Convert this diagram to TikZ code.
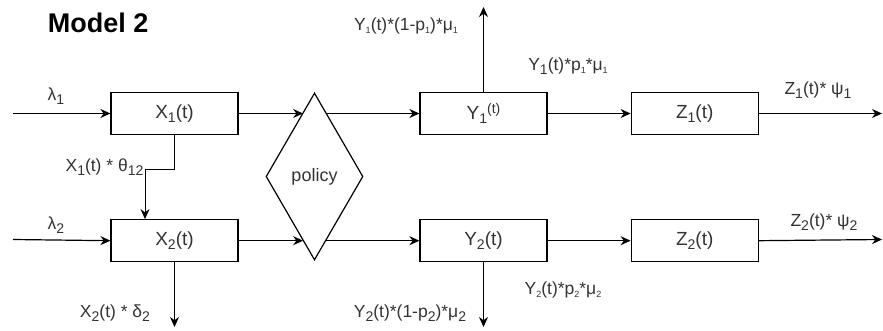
\documentclass[tikz,border=0pt]{standalone}
\usepackage{fontspec}
\setmainfont{Liberation Sans}
\usepackage{xcolor}
\usetikzlibrary{arrows.meta,shapes.geometric,positioning}

\definecolor{txtgray}{HTML}{333333}
\newcommand{\sbs}[1]{\raisebox{-0.45ex}{\fontsize{14}{14}\selectfont #1}}
\newcommand{\tsbs}[1]{\raisebox{-0.35ex}{\fontsize{9}{9}\selectfont #1}}

\begin{document}
\begin{tikzpicture}[x=1pt, y=-1pt, line width=1.2pt, >={Stealth[length=10pt,width=9pt]},
    box/.style={draw, rectangle, minimum width=127pt, minimum height=42pt, inner sep=0pt,
        font=\fontsize{19}{22}\selectfont, text=txtgray},
    lbl/.style={font=\fontsize{17.5}{20}\selectfont, text=txtgray, inner sep=0pt}]
        \useasboundingbox (0,0) rectangle (883,331);

        % Titel
        \node[anchor=west, font=\fontsize{27}{30}\selectfont\bfseries] (title) at (44,23) {Model 2};

        % Nodes
        \node[box] (x1) at (174.5,113.5) {X\sbs{1}(t)};
        \node[box, below=84pt of x1] (x2) {X\sbs{2}(t)};
        \node[draw, diamond, aspect=0.58, minimum width=97pt, minimum height=167pt, inner sep=0pt,
            font=\fontsize{18}{20}\selectfont, text=txtgray] (pol) at (314.5,176.5) {policy};
        \node[box] (y1) at (483.5,113.5) {Y\sbs{1}\raisebox{0.6ex}{\fontsize{14}{14}\selectfont (t)}};
        \node[box, below=84pt of y1] (y2) {Y\sbs{2}(t)};
        \node[box, right=83pt of y1] (z1) {Z\sbs{1}(t)};
        \node[box, right=83pt of y2] (z2) {Z\sbs{2}(t)};

        % Losse eindpunten
        \coordinate (in1) at (13,113.5);
        \coordinate (in2) at (13,239.5);
        \coordinate (out1) at (882,113.5);
        \coordinate (out2) at (882,239.5);
        \coordinate (up1) at (483.5,7);
        \coordinate (dn2) at (483.5,327);
        \coordinate (dx2) at (174.5,327);
        \coordinate (th) at (145,170);

        % Bovenste rij
        \draw[->] (in1) -- (x1.west);
        \draw[->] (x1.east) -- (x1.east -| pol.100);
        \draw[->] (pol.80 |- y1.west) -- (y1.west);
        \draw[->] (y1.east) -- (z1.west);
        \draw[->] (z1.east) -- (out1);
        \draw[->] (y1.north) -- (up1);

        % Overloop X1 -> X2
        \draw[->, line width=1pt] (x1.south) |- (th) -- (th |- x2.north);

        % Onderste rij
        \draw[->] (in2) -- (x2.west);
        \draw[->] (x2.east) -- (x2.east -| pol.260);
        \draw[->] (pol.280 |- y2.west) -- (y2.west);
        \draw[->] (y2.east) -- (z2.west);
        \draw[->] (z2.east) -- (out2);
        \draw[->] (y2.south) -- (dn2);
        \draw[->] (x2.south) -- (dx2);

        % Labels
        \node[lbl] (lam1) at (56,96) {λ\sbs{1}};
        \node[lbl] (lam2) at (56,225) {λ\sbs{2}};
        \node[lbl, anchor=east] (lth) at (144,167) {X\sbs{1}(t) * θ\sbs{12}};
        \node[lbl] (ldel) at (115,313) {X\sbs{2}(t) * δ\sbs{2}};
        \node[lbl] (lq1) at (406,26) {Y\tsbs{1}(t)*(1-p\tsbs{1})*μ\tsbs{1}};
        \node[lbl] (lp1) at (568,66) {Y\sbs{1}(t)*p\tsbs{1}*μ\tsbs{1}};
        \node[lbl] (lz1) at (818,90) {Z\sbs{1}(t)* ψ\sbs{1}};
        \node[lbl] (lp2) at (563,290) {Y\tsbs{2}(t)*p\tsbs{2}*μ\tsbs{2}};
        \node[lbl] (lq2) at (410,313) {Y\sbs{2}(t)*(1-p\sbs{2})*μ\sbs{2}};
        \node[lbl] (lz2) at (824,222) {Z\sbs{2}(t)* ψ\sbs{2}};
    \end{tikzpicture}
\end{document}
